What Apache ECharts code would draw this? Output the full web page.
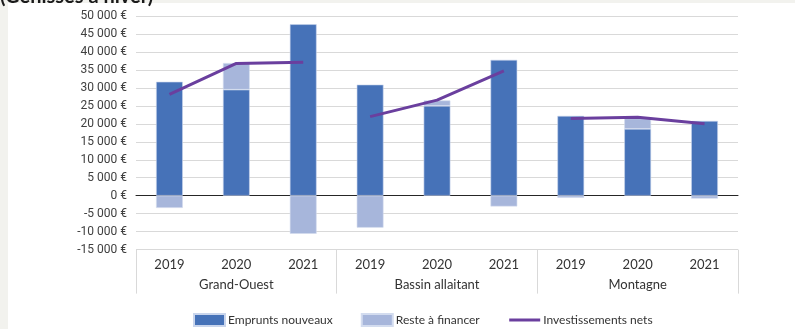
<!DOCTYPE html>
<html>
<head>
<meta charset="utf-8">
<script src="https://cdn.jsdelivr.net/npm/echarts@6/dist/echarts.min.js"></script>
<style>
  html, body { margin: 0; padding: 0; width: 795px; height: 329px; overflow: hidden; background: #f2f2ee; }
  #panel { position: absolute; left: 8px; top: 3px; right: 0; bottom: 0; background: #ffffff; }
  #heading { position: absolute; left: 0; top: -17px; font: bold 20px Lato, sans-serif; color: #1a1a1a; white-space: nowrap; }
  #chart { position: absolute; left: 0; top: 0; width: 795px; height: 329px; }
</style>
</head>
<body>
<div id="panel"></div>
<div id="chart"></div>
<div id="heading">(Génisses à hiver)</div>
<script>
// Regions and campaign years shown on the two-level category axis
const groups = ['Grand-Ouest', 'Bassin allaitant', 'Montagne'];
const years = ['2019', '2020', '2021'];

// Values per region, in euros (order: Grand-Ouest 2019..2021, Bassin allaitant 2019..2021, Montagne 2019..2021)
const emprunts = [31700, 29500, 47700, 30900, 25000, 37800, 22200, 18600, 20800];
const reste = [-3400, 7400, -10600, -8900, 1500, -3000, -600, 2900, -800];
const investissements = [28200, 36800, 37100, 22000, 26600, 34700, 21500, 21800, 20000];

// Y-axis range
const yMin = -15000, yMax = 50000, yStep = 5000;

const cats = [];
groups.forEach(g => years.forEach(y => cats.push(g + ' ' + y)));
const yearLabels = cats.map(c => c.slice(-4));

const fmtEuro = v => (v < 0 ? '-' : '') + String(Math.abs(v)).replace(/\B(?=(\d{3})+(?!\d))/g, ' ') + ' €';

const lineColor = '#6a3f9e';
const catFont = "Lato, sans-serif";

// One line per region so the segments stay separate
const lineSeries = groups.map((g, gi) => ({
  name: 'Investissements nets',
  type: 'line',
  xAxisIndex: 0,
  symbol: 'none',
  z: 5,
  lineStyle: { color: lineColor, width: 3 },
  itemStyle: { color: lineColor },
  data: investissements.map((v, i) => (Math.floor(i / years.length) === gi ? v : null))
}));

const chart = echarts.init(document.getElementById('chart'), null, { renderer: 'canvas' });
chart.setOption({
  backgroundColor: 'transparent',
  animation: false,
  grid: { left: 136, right: 57, top: 16, bottom: 79.4, containLabel: false },
  legend: {
    left: 193, top: 313, padding: 0,
    itemWidth: 31, itemHeight: 12, itemGap: 28,
    textStyle: { fontFamily: catFont, fontSize: 12, color: '#333333', padding: [0, 0, 0, -2] },
    data: [
      { name: 'Emprunts nouveaux', icon: 'rect' },
      { name: 'Reste à financer', icon: 'rect' },
      { name: 'Investissements nets', itemStyle: { opacity: 0 }, lineStyle: { color: lineColor, width: 3 } }
    ]
  },
  xAxis: [
    {
      type: 'category', data: cats, position: 'bottom',
      axisLine: { show: true, onZero: true, lineStyle: { color: '#262626', width: 1 } },
      axisTick: { show: false }, axisLabel: { show: false }, splitLine: { show: false }
    },
    {
      type: 'category', data: cats, position: 'bottom',
      axisLine: { show: false, onZero: false }, axisTick: { show: false },
      axisLabel: { margin: 9, fontFamily: catFont, fontSize: 13, color: '#333333', formatter: (v, i) => yearLabels[i] }
    },
    {
      type: 'category', data: groups, position: 'bottom',
      axisLine: { show: false, onZero: false },
      axisTick: { show: true, length: 44, lineStyle: { color: '#d9d9d9' } },
      axisLabel: { margin: 29, fontFamily: catFont, fontSize: 13, color: '#333333' }
    }
  ],
  yAxis: {
    type: 'value', min: yMin, max: yMax, interval: yStep,
    axisLine: { show: false }, axisTick: { show: false },
    axisLabel: { margin: 9, fontFamily: 'Roboto, sans-serif', fontSize: 12, color: '#404040', formatter: fmtEuro },
    splitLine: { lineStyle: { color: '#d9d9d9', width: 1 } }
  },
  series: [
    {
      name: 'Emprunts nouveaux', type: 'bar', stack: 'financement', xAxisIndex: 0,
      barWidth: '40%',
      itemStyle: { color: '#4672b8', borderColor: '#c9d5ec', borderWidth: 0.6 },
      data: emprunts
    },
    {
      name: 'Reste à financer', type: 'bar', stack: 'financement', xAxisIndex: 0,
      barWidth: '40%',
      itemStyle: { color: '#a7b6db', borderColor: '#d3dcef', borderWidth: 0.6 },
      data: reste
    },
    ...lineSeries
  ]
});
</script>
</body>
</html>
